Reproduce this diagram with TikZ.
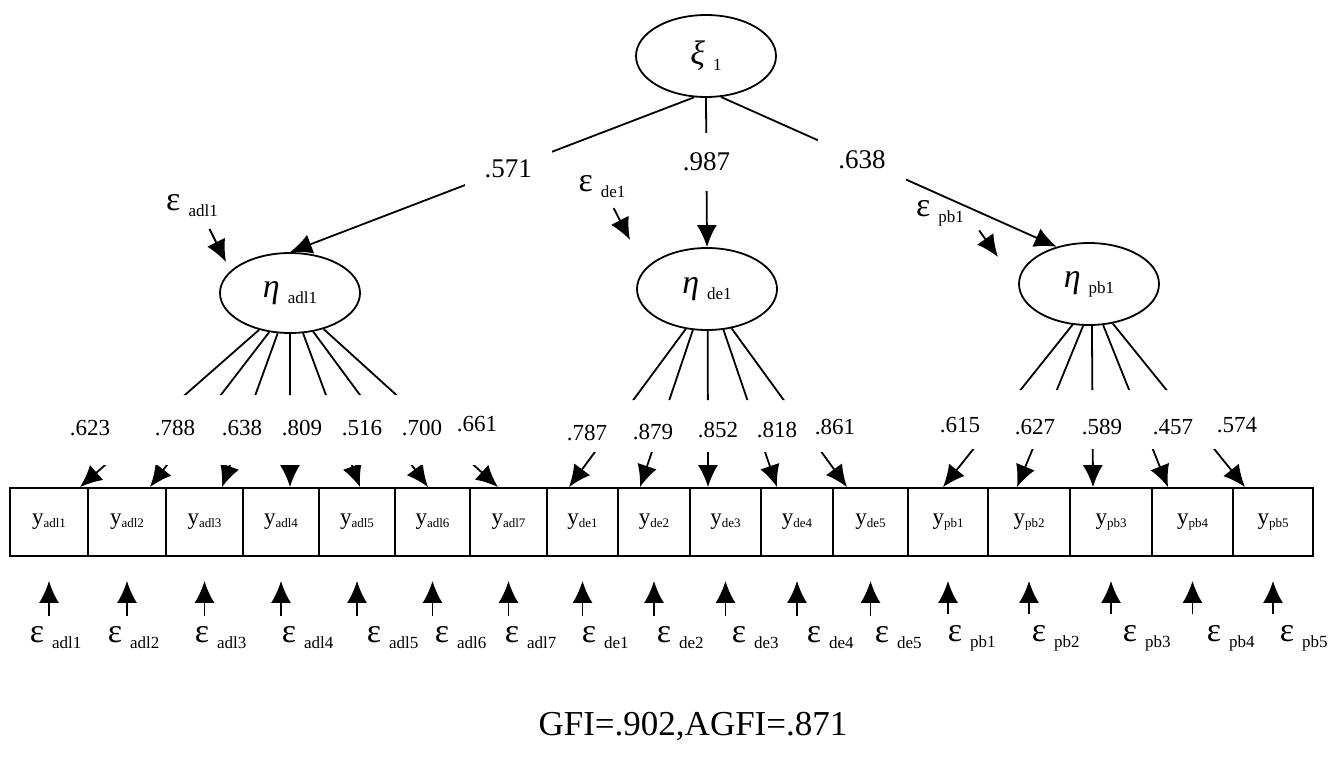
\documentclass[tikz,border=0pt]{standalone}
\usepackage{fontspec}
\setmainfont{Liberation Serif}
\usetikzlibrary{arrows.meta,shapes.geometric}
\newcommand{\sym}[2]{{\fontsize{17}{19}\selectfont #1}\hspace{4pt}{\fontsize{8.5}{9}\selectfont\raisebox{-3pt}{#2}}}
\newcommand{\yv}[1]{y{\fontsize{6.5}{7}\selectfont\raisebox{-1.5pt}{#1}}}

\begin{document}
\begin{tikzpicture}[x=0.5pt, y=-0.5pt, line width=0.9pt, >={Latex[length=11pt,width=10pt]},
  lat/.style={draw, ellipse, minimum width=70pt, minimum height=41pt, inner sep=0pt, font=\fontsize{13}{15}\selectfont},
  obs/.style={draw, minimum height=34pt, inner sep=0pt, font=\fontsize{11.5}{13}\selectfont},
  coef/.style={fill=white, inner xsep=10pt, inner ysep=10pt, font=\fontsize{13.5}{16}\selectfont},
  ld/.style={inner sep=1pt, font=\fontsize{11.5}{13}\selectfont},
  err/.style={inner sep=1pt, font=\fontsize{13}{15}\selectfont}]
\useasboundingbox (0,0) rectangle (1332,766);

% latent variables
\node[lat] (xi) at (706,56) {\sym{\textit{ξ}}{1}};
\node[lat, minimum height=40pt] (eta1) at (290,293) {\sym{\textit{η}}{adl1}};
\node[lat] (eta2) at (707,289) {\sym{\textit{η}}{de1}};
\node[lat] (eta3) at (1089,284) {\sym{\textit{η}}{pb1}};

% structural paths
\draw[->] (xi.254) -- node[coef, pos=0.46] (g1) {.571} (eta1.north);
\draw[->] (xi.south) -- node[coef, pos=0.43] (g2) {.987} (eta2.north);
\draw[->] (xi.290) -- node[coef, pos=0.42] (g3) {.638} (eta3.131);

% disturbances
\node[err] (z1) at (192,206) {\sym{ε}{adl1}};
\node[err] (z2) at (602,187) {\sym{ε}{de1}};
\node[err] (z3) at (940,213) {\sym{ε}{pb1}};
\coordinate (z1e) at (226,262);
\coordinate (z2e) at (630,240);
\coordinate (z3e) at (998,257);
\draw[->, shorten <=5pt] (z1.south -| 205,0) -- (z1e);
\draw[->, shorten <=4pt] (z2.south -| 610,0) -- (z2e);
\draw[->, shorten <=1pt] (z3.south -| 978,0) -- (z3e);

% indicators and their errors
\foreach \i/\xa/\xb/\s/\ex in {1/10/88/adl1/35, 2/88/166/adl2/113, 3/166/243/adl3/200,
    4/243/319/adl4/287, 5/319/395/adl5/372, 6/395/470/adl6/440, 7/470/547/adl7/510,
    8/547/618/de1/587, 9/618/690/de2/662, 10/690/761/de3/737, 11/761/833/de4/812,
    12/833/908/de5/880, 13/908/988/pb1/953, 14/988/1070/pb2/1037, 15/1070/1152/pb3/1128,
    16/1152/1233/pb4/1212, 17/1233/1313/pb5/1285}{
  \node[obs, minimum width={(\xb-\xa)*0.5pt}] (b\i) at ({(\xa+\xb)/2},522) {\yv{\s}};
  \node[err, anchor=west] (e\i) at (\ex-8,638) {\sym{ε}{\s}};
  \draw[->, shorten <=4pt, shorten >=12pt] (e\i.north -| b\i.south) -- (b\i.south);
}

% loadings, cut where the values stand
\begin{scope}
\clip (0,0) rectangle (1332,395) (0,465) rectangle (1332,766);
\foreach \a/\i/\x in {230/1/80, 242/2/150, 253/3/222, 270/4/290, 288/5/360, 301/6/428, 313/7/498}
  \draw[->] (eta1.\a) -- (b\i.north -| \x,0);
\end{scope}
\begin{scope}
\clip (0,0) rectangle (1332,400) (0,452) rectangle (1332,766);
\foreach \a/\i/\x in {242/8/569, 251/9/640, 271/10/708, 292/11/777, 302/12/847}
  \draw[->] (eta2.\a) -- (b\i.north -| \x,0);
\end{scope}
\begin{scope}
\clip (0,0) rectangle (1332,390) (0,449) rectangle (1332,766);
\foreach \a/\i/\x in {248/13/943, 262/14/1017, 274/15/1093, 289/16/1168, 301/17/1245}
  \draw[->] (eta3.\a) -- (b\i.north -| \x,0);
\end{scope}

\foreach \lbl/\x/\y [count=\k] in {.623/90/428, .788/175/428, .638/242/428, .809/302/428,
    .516/362/428, .700/422/428, .661/477/424, .787/587/433, .879/653/432, .852/718/430,
    .818/777/430, .861/835/427, .615/960/425, .627/1035/427, .589/1102/427, .457/1173/427,
    .574/1237/425}
  \node[ld] (l\k) at (\x,\y) {\lbl};

\node[font=\fontsize{17.5}{20}\selectfont] (gfi) at (693,727) {GFI=.902,AGFI=.871};
\end{tikzpicture}
\end{document}
